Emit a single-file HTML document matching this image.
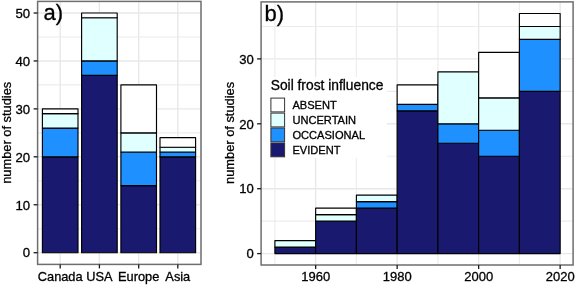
<!DOCTYPE html>
<html><head><meta charset="utf-8"><title>Soil frost influence</title>
<style>
html,body{margin:0;padding:0;background:#fff;}
svg{display:block;}
text{font-family:"Liberation Sans",Arial,sans-serif;fill:#000;stroke:#000;stroke-width:0.3px;}
</style></head><body>
<svg width="575" height="285" viewBox="0 0 575 285">
<rect width="575" height="285" fill="#fff"/>

<g id="panel-a">
<line x1="37.6" x2="201.0" y1="228.73" y2="228.73" stroke="#ececec" stroke-width="1.1"/>
<line x1="37.6" x2="201.0" y1="180.79" y2="180.79" stroke="#ececec" stroke-width="1.1"/>
<line x1="37.6" x2="201.0" y1="132.85" y2="132.85" stroke="#ececec" stroke-width="1.1"/>
<line x1="37.6" x2="201.0" y1="84.91" y2="84.91" stroke="#ececec" stroke-width="1.1"/>
<line x1="37.6" x2="201.0" y1="36.97" y2="36.97" stroke="#ececec" stroke-width="1.1"/>
<line x1="37.6" x2="201.0" y1="252.70" y2="252.70" stroke="#e8e8e8" stroke-width="1.4"/>
<line x1="37.6" x2="201.0" y1="204.76" y2="204.76" stroke="#e8e8e8" stroke-width="1.4"/>
<line x1="37.6" x2="201.0" y1="156.82" y2="156.82" stroke="#e8e8e8" stroke-width="1.4"/>
<line x1="37.6" x2="201.0" y1="108.88" y2="108.88" stroke="#e8e8e8" stroke-width="1.4"/>
<line x1="37.6" x2="201.0" y1="60.94" y2="60.94" stroke="#e8e8e8" stroke-width="1.4"/>
<line x1="37.6" x2="201.0" y1="13.00" y2="13.00" stroke="#e8e8e8" stroke-width="1.4"/>
<line x1="60.2" x2="60.2" y1="1.4" y2="264.4" stroke="#e8e8e8" stroke-width="1.4"/>
<line x1="99.4" x2="99.4" y1="1.4" y2="264.4" stroke="#e8e8e8" stroke-width="1.4"/>
<line x1="138.7" x2="138.7" y1="1.4" y2="264.4" stroke="#e8e8e8" stroke-width="1.4"/>
<line x1="177.8" x2="177.8" y1="1.4" y2="264.4" stroke="#e8e8e8" stroke-width="1.4"/>
<rect x="42.40" y="156.82" width="35.6" height="95.88" fill="#191970" stroke="#000" stroke-width="1.15" stroke-linejoin="round"/>
<rect x="42.40" y="128.06" width="35.6" height="28.76" fill="#1E90FF" stroke="#000" stroke-width="1.15" stroke-linejoin="round"/>
<rect x="42.40" y="113.67" width="35.6" height="14.38" fill="#E0FFFF" stroke="#000" stroke-width="1.15" stroke-linejoin="round"/>
<rect x="42.40" y="108.88" width="35.6" height="4.79" fill="#FFFFFF" stroke="#000" stroke-width="1.15" stroke-linejoin="round"/>
<rect x="81.60" y="75.32" width="35.6" height="177.38" fill="#191970" stroke="#000" stroke-width="1.15" stroke-linejoin="round"/>
<rect x="81.60" y="60.94" width="35.6" height="14.38" fill="#1E90FF" stroke="#000" stroke-width="1.15" stroke-linejoin="round"/>
<rect x="81.60" y="17.79" width="35.6" height="43.15" fill="#E0FFFF" stroke="#000" stroke-width="1.15" stroke-linejoin="round"/>
<rect x="81.60" y="13.00" width="35.6" height="4.79" fill="#FFFFFF" stroke="#000" stroke-width="1.15" stroke-linejoin="round"/>
<rect x="120.90" y="185.58" width="35.6" height="67.12" fill="#191970" stroke="#000" stroke-width="1.15" stroke-linejoin="round"/>
<rect x="120.90" y="152.03" width="35.6" height="33.56" fill="#1E90FF" stroke="#000" stroke-width="1.15" stroke-linejoin="round"/>
<rect x="120.90" y="132.85" width="35.6" height="19.18" fill="#E0FFFF" stroke="#000" stroke-width="1.15" stroke-linejoin="round"/>
<rect x="120.90" y="84.91" width="35.6" height="47.94" fill="#FFFFFF" stroke="#000" stroke-width="1.15" stroke-linejoin="round"/>
<rect x="160.00" y="156.82" width="35.6" height="95.88" fill="#191970" stroke="#000" stroke-width="1.15" stroke-linejoin="round"/>
<rect x="160.00" y="152.03" width="35.6" height="4.79" fill="#1E90FF" stroke="#000" stroke-width="1.15" stroke-linejoin="round"/>
<rect x="160.00" y="147.23" width="35.6" height="4.79" fill="#E0FFFF" stroke="#000" stroke-width="1.15" stroke-linejoin="round"/>
<rect x="160.00" y="137.64" width="35.6" height="9.59" fill="#FFFFFF" stroke="#000" stroke-width="1.15" stroke-linejoin="round"/>
<rect x="37.6" y="1.4" width="163.4" height="263.0" fill="none" stroke="#6e6e6e" stroke-width="1.5"/>
<line x1="33.6" x2="37.6" y1="252.70" y2="252.70" stroke="#1a1a1a" stroke-width="1.3"/>
<text x="30.200000000000003" y="257.45" font-size="13.2" text-anchor="end">0</text>
<line x1="33.6" x2="37.6" y1="204.76" y2="204.76" stroke="#1a1a1a" stroke-width="1.3"/>
<text x="30.200000000000003" y="209.51" font-size="13.2" text-anchor="end">10</text>
<line x1="33.6" x2="37.6" y1="156.82" y2="156.82" stroke="#1a1a1a" stroke-width="1.3"/>
<text x="30.200000000000003" y="161.57" font-size="13.2" text-anchor="end">20</text>
<line x1="33.6" x2="37.6" y1="108.88" y2="108.88" stroke="#1a1a1a" stroke-width="1.3"/>
<text x="30.200000000000003" y="113.63" font-size="13.2" text-anchor="end">30</text>
<line x1="33.6" x2="37.6" y1="60.94" y2="60.94" stroke="#1a1a1a" stroke-width="1.3"/>
<text x="30.200000000000003" y="65.69" font-size="13.2" text-anchor="end">40</text>
<line x1="33.6" x2="37.6" y1="13.00" y2="13.00" stroke="#1a1a1a" stroke-width="1.3"/>
<text x="30.200000000000003" y="17.75" font-size="13.2" text-anchor="end">50</text>
<line x1="60.2" x2="60.2" y1="264.4" y2="268.4" stroke="#1a1a1a" stroke-width="1.3"/>
<text x="60.2" y="280.79999999999995" font-size="12.8" text-anchor="middle">Canada</text>
<line x1="99.4" x2="99.4" y1="264.4" y2="268.4" stroke="#1a1a1a" stroke-width="1.3"/>
<text x="99.4" y="280.79999999999995" font-size="12.8" text-anchor="middle">USA</text>
<line x1="138.7" x2="138.7" y1="264.4" y2="268.4" stroke="#1a1a1a" stroke-width="1.3"/>
<text x="138.7" y="280.79999999999995" font-size="12.8" text-anchor="middle">Europe</text>
<line x1="177.8" x2="177.8" y1="264.4" y2="268.4" stroke="#1a1a1a" stroke-width="1.3"/>
<text x="177.8" y="280.79999999999995" font-size="12.8" text-anchor="middle">Asia</text>
<text transform="translate(10.5,132.8) rotate(-90)" font-size="12.85" text-anchor="middle">number of studies</text>
<text x="43.4" y="20" font-size="22">a)</text>
</g>
<g id="panel-b">
<line x1="261.1" x2="573.1" y1="221.15" y2="221.15" stroke="#ececec" stroke-width="1.1"/>
<line x1="261.1" x2="573.1" y1="156.25" y2="156.25" stroke="#ececec" stroke-width="1.1"/>
<line x1="261.1" x2="573.1" y1="91.35" y2="91.35" stroke="#ececec" stroke-width="1.1"/>
<line x1="261.1" x2="573.1" y1="26.45" y2="26.45" stroke="#ececec" stroke-width="1.1"/>
<line x1="261.1" x2="573.1" y1="253.60" y2="253.60" stroke="#e8e8e8" stroke-width="1.4"/>
<line x1="261.1" x2="573.1" y1="188.70" y2="188.70" stroke="#e8e8e8" stroke-width="1.4"/>
<line x1="261.1" x2="573.1" y1="123.80" y2="123.80" stroke="#e8e8e8" stroke-width="1.4"/>
<line x1="261.1" x2="573.1" y1="58.90" y2="58.90" stroke="#e8e8e8" stroke-width="1.4"/>
<line x1="274.90" x2="274.90" y1="1.9" y2="265.0" stroke="#ececec" stroke-width="1.1"/>
<line x1="356.40" x2="356.40" y1="1.9" y2="265.0" stroke="#ececec" stroke-width="1.1"/>
<line x1="437.90" x2="437.90" y1="1.9" y2="265.0" stroke="#ececec" stroke-width="1.1"/>
<line x1="519.40" x2="519.40" y1="1.9" y2="265.0" stroke="#ececec" stroke-width="1.1"/>
<line x1="315.65" x2="315.65" y1="1.9" y2="265.0" stroke="#e8e8e8" stroke-width="1.4"/>
<line x1="397.15" x2="397.15" y1="1.9" y2="265.0" stroke="#e8e8e8" stroke-width="1.4"/>
<line x1="478.65" x2="478.65" y1="1.9" y2="265.0" stroke="#e8e8e8" stroke-width="1.4"/>
<line x1="560.15" x2="560.15" y1="1.9" y2="265.0" stroke="#e8e8e8" stroke-width="1.4"/>
<rect x="262" y="77" width="125" height="81" fill="#fff"/>
<rect x="274.90" y="247.11" width="40.75" height="6.49" fill="#191970" stroke="#000" stroke-width="1.15" stroke-linejoin="round"/>
<rect x="274.90" y="240.62" width="40.75" height="6.49" fill="#E0FFFF" stroke="#000" stroke-width="1.15" stroke-linejoin="round"/>
<rect x="315.65" y="221.15" width="40.75" height="32.45" fill="#191970" stroke="#000" stroke-width="1.15" stroke-linejoin="round"/>
<rect x="315.65" y="214.66" width="40.75" height="6.49" fill="#E0FFFF" stroke="#000" stroke-width="1.15" stroke-linejoin="round"/>
<rect x="315.65" y="208.17" width="40.75" height="6.49" fill="#FFFFFF" stroke="#000" stroke-width="1.15" stroke-linejoin="round"/>
<rect x="356.40" y="208.17" width="40.75" height="45.43" fill="#191970" stroke="#000" stroke-width="1.15" stroke-linejoin="round"/>
<rect x="356.40" y="201.68" width="40.75" height="6.49" fill="#1E90FF" stroke="#000" stroke-width="1.15" stroke-linejoin="round"/>
<rect x="356.40" y="195.19" width="40.75" height="6.49" fill="#E0FFFF" stroke="#000" stroke-width="1.15" stroke-linejoin="round"/>
<rect x="397.15" y="110.82" width="40.75" height="142.78" fill="#191970" stroke="#000" stroke-width="1.15" stroke-linejoin="round"/>
<rect x="397.15" y="104.33" width="40.75" height="6.49" fill="#1E90FF" stroke="#000" stroke-width="1.15" stroke-linejoin="round"/>
<rect x="397.15" y="84.86" width="40.75" height="19.47" fill="#FFFFFF" stroke="#000" stroke-width="1.15" stroke-linejoin="round"/>
<rect x="437.90" y="143.27" width="40.75" height="110.33" fill="#191970" stroke="#000" stroke-width="1.15" stroke-linejoin="round"/>
<rect x="437.90" y="123.80" width="40.75" height="19.47" fill="#1E90FF" stroke="#000" stroke-width="1.15" stroke-linejoin="round"/>
<rect x="437.90" y="71.88" width="40.75" height="51.92" fill="#E0FFFF" stroke="#000" stroke-width="1.15" stroke-linejoin="round"/>
<rect x="478.65" y="156.25" width="40.75" height="97.35" fill="#191970" stroke="#000" stroke-width="1.15" stroke-linejoin="round"/>
<rect x="478.65" y="130.29" width="40.75" height="25.96" fill="#1E90FF" stroke="#000" stroke-width="1.15" stroke-linejoin="round"/>
<rect x="478.65" y="97.84" width="40.75" height="32.45" fill="#E0FFFF" stroke="#000" stroke-width="1.15" stroke-linejoin="round"/>
<rect x="478.65" y="52.41" width="40.75" height="45.43" fill="#FFFFFF" stroke="#000" stroke-width="1.15" stroke-linejoin="round"/>
<rect x="519.40" y="91.35" width="40.75" height="162.25" fill="#191970" stroke="#000" stroke-width="1.15" stroke-linejoin="round"/>
<rect x="519.40" y="39.43" width="40.75" height="51.92" fill="#1E90FF" stroke="#000" stroke-width="1.15" stroke-linejoin="round"/>
<rect x="519.40" y="26.45" width="40.75" height="12.98" fill="#E0FFFF" stroke="#000" stroke-width="1.15" stroke-linejoin="round"/>
<rect x="519.40" y="13.47" width="40.75" height="12.98" fill="#FFFFFF" stroke="#000" stroke-width="1.15" stroke-linejoin="round"/>
<rect x="261.1" y="1.9" width="312.0" height="263.1" fill="none" stroke="#6e6e6e" stroke-width="1.5"/>
<line x1="257.1" x2="261.1" y1="253.60" y2="253.60" stroke="#1a1a1a" stroke-width="1.3"/>
<text x="253.8" y="258.30" font-size="13.1" text-anchor="end">0</text>
<line x1="257.1" x2="261.1" y1="188.70" y2="188.70" stroke="#1a1a1a" stroke-width="1.3"/>
<text x="253.8" y="193.40" font-size="13.1" text-anchor="end">10</text>
<line x1="257.1" x2="261.1" y1="123.80" y2="123.80" stroke="#1a1a1a" stroke-width="1.3"/>
<text x="253.8" y="128.50" font-size="13.1" text-anchor="end">20</text>
<line x1="257.1" x2="261.1" y1="58.90" y2="58.90" stroke="#1a1a1a" stroke-width="1.3"/>
<text x="253.8" y="63.60" font-size="13.1" text-anchor="end">30</text>
<line x1="315.65" x2="315.65" y1="265.0" y2="269.0" stroke="#1a1a1a" stroke-width="1.3"/>
<text x="315.65" y="281.1" font-size="13" text-anchor="middle">1960</text>
<line x1="397.15" x2="397.15" y1="265.0" y2="269.0" stroke="#1a1a1a" stroke-width="1.3"/>
<text x="397.15" y="281.1" font-size="13" text-anchor="middle">1980</text>
<line x1="478.65" x2="478.65" y1="265.0" y2="269.0" stroke="#1a1a1a" stroke-width="1.3"/>
<text x="478.65" y="281.1" font-size="13" text-anchor="middle">2000</text>
<line x1="560.15" x2="560.15" y1="265.0" y2="269.0" stroke="#1a1a1a" stroke-width="1.3"/>
<text x="560.15" y="281.1" font-size="13" text-anchor="middle">2020</text>
<text transform="translate(234.2,132.9) rotate(-90)" font-size="12.85" text-anchor="middle">number of studies</text>
<text x="264.6" y="21" font-size="22">b)</text>
<text x="270.7" y="89.5" font-size="13.8">Soil frost influence</text>
<rect x="270.9" y="98.1" width="13.7" height="13.8" fill="#FFFFFF" stroke="#333" stroke-width="1"/>
<text x="292.4" y="109.1" font-size="11.1">ABSENT</text>
<rect x="270.9" y="113.1" width="13.7" height="13.8" fill="#E0FFFF" stroke="#333" stroke-width="1"/>
<text x="292.4" y="124.1" font-size="11.1">UNCERTAIN</text>
<rect x="270.9" y="128.0" width="13.7" height="13.8" fill="#1E90FF" stroke="#333" stroke-width="1"/>
<text x="292.4" y="139.0" font-size="11.1">OCCASIONAL</text>
<rect x="270.9" y="143.0" width="13.7" height="13.8" fill="#191970" stroke="#333" stroke-width="1"/>
<text x="292.4" y="154.0" font-size="11.1">EVIDENT</text>
</g>
</svg></body></html>
